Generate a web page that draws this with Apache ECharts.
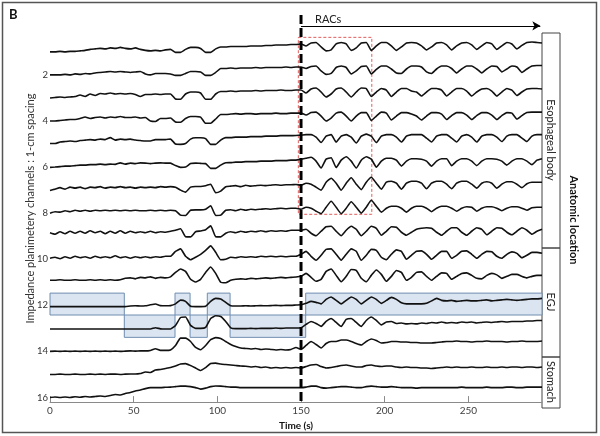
<!DOCTYPE html>
<html>
<head>
<meta charset="utf-8">
<script src="https://cdn.jsdelivr.net/npm/echarts@6/dist/echarts.min.js"></script>
<style>
html, body { margin: 0; padding: 0; background: #fff; }
#chart { width: 600px; height: 436px; }
</style>
</head>
<body>
<div id="chart"></div>
<script>
// time base (s), one sample every 3 s
let times = [0,3,6,9,12,15,18,21,24,27,30,33,36,39,42,45,48,51,54,57,60,63,66,69,72,75,78,81,84,87,90,93,96,99,102,105,108,111,114,117,120,123,126,129,132,135,138,141,144,147,150,153,156,159,162,165,168,171,174,177,180,183,186,189,192,195,198,201,204,207,210,213,216,219,222,225,228,231,234,237,240,243,246,249,252,255,258,261,264,267,270,273,276,279,282,285,288,291,294];

// impedance traces, channel 1 (top) .. 16 (bottom), arbitrary units
let ch1 = [0,0,0.5,0,0.5,0.5,1,1.5,2.5,3,3.5,3,4,3.5,4.5,3.5,3,4,2.5,1.5,1,1.5,1,2,2.5,-0.5,-0.5,2.5,4.5,4.5,3.5,-0.5,-0.5,3,5,5,5.5,5.5,5.5,5.5,6,6,6,6.5,6.5,7,7,7,7.5,7.5,
  8,6,9,9.5,5,1,2,8,9.5,8,1.5,4,9,9.5,1.5,6,9.5,9.5,6,1.5,5,9,9.5,9,6,2,5,9,9.5,7,2,6,9,9.5,7,2.5,6,9.5,8,2.5,6,9.5,8,3,6.5,9.5,10,9.5,9];
let ch2 = [0,0,0,0.5,0,1,0.5,1.5,1,2,2.5,3,3.5,3,3.5,3,2.5,3,3.5,1,0,1.5,1.5,1.5,1,-0.5,-0.5,1.5,3.5,3.5,3,-0.5,-0.5,2.5,6.5,6.5,7,6.5,7,7,7,7.5,7,7.5,7.5,7.5,7.5,8,7.5,8,
  8,6.5,8.5,9,4,0.5,1.5,7.5,9,7.5,1,4,8.5,9,1,5.5,9,9,6,2,1.5,6,9,9,8,3,1.5,6,9,9,6.5,2,6,9,9,6,2,6,9,8.5,3,6,9,8,2.5,6,9,9.5,9.5];
let ch3 = [0,0.5,1,0.5,1,1.5,3,1.5,4,2.5,4.5,4,5,4,4.5,4,4.5,3.5,1.5,3.5,3.5,4,3.5,4,4,-1,-1.3,4,6,6,5,-1.3,-1.3,4,6.5,6.5,7,6.5,7,7,7,7.5,7,7.5,7.5,7.5,8,7.5,7.5,8,
  8,5,9,10,6,1,4,9,10,6,1,6,10,9.5,1.5,6,9.5,8,1.5,6,9.5,9.5,7,6,2,6,9.5,9.5,8,2,6,9.5,9.5,7,2,6,9,9.5,7,2,6,9.5,8,2.5,6,9,9.5,9.5,9];
let ch4 = [0,0,0.5,1,1.5,1.5,2.5,4,2.5,3.5,4,3,4,3.5,4.5,3.5,3.5,4,3,3.5,0,-0.5,2.5,2.5,3,-1,-1.3,2.5,4.5,4.5,4,-2.3,-2.3,2,6.5,6.5,7,7.5,7,7.5,7.5,7,7.5,7.5,7.5,8,7.5,7.5,8,8,
  8,6,8.5,9,5,0,3,8,9,5,0,5,8.5,8.5,0.5,5,9,8,1,5,8.5,8.5,7,5,1,5,8.5,8.5,7,1.5,5.5,8.5,8.5,6,1.5,5.5,8.5,8.5,6,1.5,5.5,8.5,8,2,5.5,8.5,9,9,9];
let ch5 = [0.5,0.5,2,2.5,3,2.5,3.5,4,4.5,4,5,4.5,6.5,4,5,4.5,5,4,3.5,3,3,4.5,4.5,4.5,5,0,-0.3,0.5,5,6.3,6.3,5.5,-0.3,-0.3,4,6.5,6.5,7,7,7,7.5,7.5,7.5,8,8,8,8.5,8.5,8.5,8.7,
  9,9.5,9.5,7,1.5,8,9.5,2,8,9.5,7,1,8,10,8,1.5,8,9.5,9.5,7,2,8,9.5,9.5,9.5,6,2,8,9.5,9.5,6,2,8,9.5,7,2,8,9.5,9.5,7,2.5,8,9.5,9.5,6,2.5,8,9.5,9.5];
let ch6 = [-0.3,0,0.5,1,1,1.5,2,2,2.5,2.5,3,2.5,3,2.7,4.3,3,4,3.5,4.3,4,3.5,4,4.3,4,4,1.5,-0.3,0,3.5,4,3.7,3.5,-1.3,-1.3,2,4.3,4.5,5,5,5.5,5.5,5.5,6,6,6,6.5,6.5,6.5,7,7,
  8,9,10,6,-1,8,9.5,-0.5,7,10.5,6,-1,7,10.5,8,0,6,9,9,7,1,6,8.5,8.5,8,6,1,6,8.5,8.5,1.5,6,8.5,8.5,6,1.5,6,8.5,8.5,8,6,2,6,8.5,8.5,6,2.5,7,8.5];
let ch7 = [-0.3,1,2.5,1,3,2,3,1.5,3,2.5,3.5,2,3,2.5,3.5,2.5,3,2,3,2.5,3,2.5,3.5,3,3.5,3,0,-2,3,3.7,3.7,4.5,6,-2.7,-1,3.5,4,4.5,3.5,5,4,4.5,5,4.5,5,5.5,5,5.5,5.5,5.7,
  5,7,6,3,0,8,12,7,0,7,12.5,6,0.5,8,13,7,1,8,9,7,1,7,9,9,7,1.5,7,9,9,6,1.5,7,9,9,6,2,7,8.5,7,2,6,8.5,8.5,6,2.5,6.5,8,8,8];
let ch8 = [0,1.5,1,2.5,1.5,3,2,3,2,3,2.5,3,2.5,3,2.5,3,2.5,3,2.5,2.5,3,2.5,3,2.5,3,2.5,-2,-2.3,3,3.3,3.3,4,7.5,-2.3,-2,3,3.5,2.5,4,3,4,3.5,4,4.5,4,4.5,5,4.5,5,5,
  4,6,5,2,-0.5,6,12,6,-0.5,5,11.5,6,0,6,13,7,1,5,7,7,5,1,5,7,7,5,1.5,5,7,7,5,2,5,6.5,6,2,5,6.5,6.5,5,2.5,5,6.5,6.5,5,3,5.5,6,6];
let ch9 = [3.5,2,4.5,2.5,5,3,5,3,5.5,3.5,5,2.5,5,3,5.5,3,5,3.5,4.5,3.5,5,3.5,4.5,4,5,6,7.5,-0.5,-0.7,4.5,5.3,6.5,10.5,-0.5,-0.7,3,4.5,3.5,5,4,5,4.5,5.5,4.5,5.5,5,5.5,5,6,6,
  6,7,3,0.5,5,9.5,10,5,0.5,6,10,7,0.5,5,10,8,1,5,9.5,9,4,1,4,7,8,8.5,8,4,1,5,8.5,8.5,4,1,5,8.5,7,1.5,5,8.5,8,4,1.5,5,8.5,6,2,5,7];
let ch10 = [1,2,0.5,2.5,1,3,1.5,2.5,1,3,1.5,2.5,1.5,3.5,1.5,2.5,1,2.5,1.5,2.5,1.5,2.5,2,3,3,8,10.5,3,-0.5,2,5,9,13.5,7,-0.5,0,2,1.5,2.5,2,2.5,2,3,2.5,3,2.5,3,2.5,3,3,
  5,8,3,-1,4,10,10.5,5,-1,5,10.5,8,-1,4,10,9,2,-0.5,5,9.5,8,0,4,8,8.5,5,0,4,8,8,1,4,8,8.5,5,1,5,8,7.5,3,1,5,7.5,6,1.5,4,7,7,6];
let ch11 = [2,2,2.5,2,2,2.5,2,2,2.5,2,2.5,2,2.5,2,2.5,4,4.5,3.5,5,4.5,5.5,4,5,4.5,5.5,10,13.5,11,3,0.3,3,10,15.5,9,0,-0.5,2,3,3.5,3,4,3.5,4,4.5,4,4.5,5,4.5,5,5.3,
  6,9,5,1,3,11,13.5,7,0.5,6,13,12,4,0.5,7,12.5,8,1,6,12,10,2,5,10,10.5,6,2,6,9.5,9,3,6,9,9.5,7,4,3.5,7,9,7.5,4,6,8,8,6,4.5,6,7,7];
let ch12 = [-1.3,-1.3,-1.3,-1.3,-1.3,-1.3,-1.3,-1.3,-1.3,-1.3,-1.3,-1.3,-1.3,-1.3,-1.3,-1.3,-0.7,-0.5,-0.7,-0.5,0.5,1.3,-0.3,-0.5,-0.3,1.5,5.3,4,-1,-1.3,-1.3,-1,4,7,6.5,3,-0.5,-0.7,-0.7,-0.5,-0.7,-0.5,-0.3,-0.5,-0.3,0,-0.3,0,0,0.3,
  0.5,2,4,3,1.5,6,8.5,5,1.5,5,8.5,6,1.5,5,8.5,6,2,5,8,6,2.5,1.5,1.5,1.5,1.5,2,4.5,7,5,4.5,5,4,4.5,5,4.5,4.5,5,5.5,4.5,5,5.5,6,5.5,5,5.5,6,6.5,6.5,7];
let ch13 = [-0.7,-0.7,-0.7,-0.7,-0.7,-0.7,-0.7,-0.7,-0.7,-0.7,-0.7,-0.7,-0.7,-0.7,-0.7,-0.7,-0.7,-0.7,-0.7,-0.7,-0.7,0.7,-0.5,-0.7,-0.7,3,11,11.5,3,0,0,1,10,12.7,12,7,0.5,-0.3,-0.3,-0.3,0,-0.3,0,0,0,0.3,0,0.3,0.3,0.3,
  0.5,4,7,5,2,7,10,6,2,9,10,6,2,8,11.5,8,3.5,6.5,7,5,5.5,4.5,5,4.5,5.5,5,6,5.5,6.5,5.5,6,5.5,6.5,6,6.5,5.5,6,6.5,6,6.5,7,6.5,7,7,7,7.5,7.5,8,8];
let ch14 = [0,0.3,0,0.3,0,0.3,0,0.3,0,0.3,0,0.3,0,0.3,0,0.3,0.5,0.3,0.5,0.5,1,2.7,1,1,1.5,6,13.5,13.5,10,4,1.7,6,12,14,13,10,7,5,3.5,3,2.5,3,2,2.5,2,1.5,2,1.5,2,4,
  2,6,10,7,3.5,8,10,10,11.5,11.5,10,8,6.5,10,12.5,11,8.5,9,10,10,9.5,9.5,9,9,8.5,8.5,8.5,9,9.5,10,10,10.5,10,10,9.5,10,10,10.5,10,10,10,9.5,10,10,10.5,10,10,10,10.5];
let ch15 = [0,0,0.3,0,0,0.3,0,0,0.3,0,0.3,0,0.3,0.3,0,0.3,0.5,0.5,1,2.5,2,4.5,5,6,7,8.5,10.5,11,9,6.5,4,7,11,11.5,10.5,10,9.5,9,8.5,8.3,7.5,8,7,7.5,6.5,7,6.5,7,6.5,7,
  6.5,8,9.5,10,8,6.5,7,8,9,9.5,8.5,7.5,7.5,9,9.5,8.5,8,8.5,8.5,7.5,7,7.5,7,7,6.5,6.5,6,6.5,7,7.5,7,7.5,7,7,7.5,7,7,7.5,7,7,7.5,7,7.5,7.5,7,7.5,7.5,7,7.5];
let ch16 = [0,0.5,0,0.5,0,0.7,0.3,1,0.5,1,1.5,1,2,3,2.5,4,5,6.5,7.5,9,10,10,10,10.3,10.5,11,11.5,11.5,11,10,8.5,9.5,11,11.7,11.5,11,10.5,10.5,10,10,10,10,10,10,10,10,10,10,10,10,
  10,10.5,11.5,11.5,10,9.5,10,10.5,11,11,10.5,10,10,11,11.5,11,10.5,10.5,11,10.5,10,10,10,9.5,10,10,10,10,10,10,10,10,10.5,10,10,10,10,10.5,10,10,10,10.5,10.5,10,10,10.5,10.5,10.5,10.5];

let channelTicks = [2, 4, 6, 8, 10, 12, 14, 16];

// shaded intervals (s) on channel 12 and channel 13
let upperBoxes = [[0, 44.4], [74.7, 83.7], [94, 107.6], [152.8, 294]];
let lowerBoxes = [[44.4, 74.7], [83.7, 94], [107.6, 152.8]];
let upperBand = [11.47, 12.42];
let lowerBand = [12.42, 13.39];

// RAC onset and highlighted window
let racStart = 150;
let racEnd = 293;
let racWindow = [148.4, 192.3];
let racChannels = [0.37, 8.05];

const ampScale = 1 / 23.33;
const font = 'Lato, "Open Sans", sans-serif';

let channels = [ch1, ch2, ch3, ch4, ch5, ch6, ch7, ch8, ch9, ch10, ch11, ch12, ch13, ch14, ch15, ch16];

let series = [];

series.push({
    type: 'line',
    data: [],
    silent: true,
    z: 1,
    markArea: {
        silent: true,
        itemStyle: { color: '#dbe5f1', borderColor: '#6f8db0', borderWidth: 1 },
        label: { show: false },
        data: upperBoxes.map(b => [{ xAxis: b[0], yAxis: upperBand[0] }, { xAxis: b[1], yAxis: upperBand[1] }])
            .concat(lowerBoxes.map(b => [{ xAxis: b[0], yAxis: lowerBand[0] }, { xAxis: b[1], yAxis: lowerBand[1] }]))
    }
});

for (let k = 0; k < channels.length; k++) {
    let pts = [];
    for (let i = 0; i < times.length; i++) {
        pts.push([times[i], (k + 1) - channels[k][i] * ampScale]);
    }
    series.push({
        type: 'line',
        data: pts,
        symbol: 'none',
        smooth: 0.15,
        silent: true,
        z: 3,
        lineStyle: { color: '#111', width: 1.6 }
    });
}

series.push({
    type: 'line',
    data: [],
    silent: true,
    z: 4,
    markArea: {
        silent: true,
        itemStyle: { color: 'rgba(0,0,0,0)', borderColor: '#e05c5c', borderWidth: 1, borderType: [3, 2] },
        label: { show: false },
        data: [[{ xAxis: racWindow[0], yAxis: racChannels[0] }, { xAxis: racWindow[1], yAxis: racChannels[1] }]]
    },
    markLine: {
        silent: true,
        symbol: ['none', 'arrow'],
        symbolSize: [7, 8],
        lineStyle: { color: '#000', width: 1, type: 'solid' },
        label: { show: false },
        data: [[{ coord: [racStart, -0.13] }, { coord: [racEnd, -0.13] }]]
    }
});

series.push({
    type: 'line',
    data: [[racStart, -0.6], [racStart, 16.2]],
    symbol: 'none',
    silent: true,
    z: 5,
    lineStyle: { color: '#000', width: 3, type: [9, 4] }
});

let option = {
    animation: false,
    textStyle: { fontFamily: font },
    grid: { left: 50, right: 58, top: 15, bottom: 29, containLabel: false },
    xAxis: {
        type: 'value',
        min: 0,
        max: 294,
        interval: 50,
        axisLine: { onZero: false, lineStyle: { color: '#8a8a8a', width: 1 } },
        axisTick: { inside: true, length: 6, lineStyle: { color: '#8a8a8a' } },
        axisLabel: { color: '#404040', fontSize: 10, margin: 4, showMaxLabel: false, fontFamily: font },
        splitLine: { show: false },
        name: 'Time (s)',
        nameLocation: 'middle',
        nameGap: 16,
        nameTextStyle: { fontWeight: 'bold', fontSize: 10, color: '#111', fontFamily: font }
    },
    yAxis: {
        type: 'value',
        inverse: true,
        min: -0.6,
        max: 16.2,
        axisLine: { show: false },
        axisTick: { show: false },
        splitLine: { show: false },
        axisLabel: { customValues: channelTicks, fontSize: 9.5, color: '#333', margin: 2, fontFamily: font },
        name: 'Impedance planimetery channels : 1-cm spacing',
        nameLocation: 'middle',
        nameGap: 14,
        nameMoveOverlap: false,
        nameTextStyle: { fontSize: 11, color: '#333', fontFamily: font }
    },
    series: series,
    graphic: [
        { type: 'rect', shape: { x: 2.5, y: 2.5, width: 594, height: 430 }, style: { fill: 'none', stroke: '#555', lineWidth: 1.5 }, silent: true },
        { type: 'text', left: 9, top: 8, style: { text: 'B', font: 'bold 13px ' + font, fill: '#111' } },
        { type: 'text', left: 315, top: 14, style: { text: 'RACs', font: '11px ' + font, fill: '#222' } },
        { type: 'rect', shape: { x: 542, y: 33, width: 18, height: 215 }, style: { fill: 'none', stroke: '#444', lineWidth: 1 }, silent: true },
        { type: 'rect', shape: { x: 542, y: 248, width: 18, height: 109 }, style: { fill: 'none', stroke: '#444', lineWidth: 1 }, silent: true },
        { type: 'rect', shape: { x: 542, y: 357, width: 18, height: 51 }, style: { fill: 'none', stroke: '#444', lineWidth: 1 }, silent: true },
        { type: 'text', x: 551, y: 140, rotation: -Math.PI / 2, style: { text: 'Esophageal body', font: '11px ' + font, fill: '#222', align: 'center', verticalAlign: 'middle' } },
        { type: 'text', x: 551, y: 302, rotation: -Math.PI / 2, style: { text: 'EGJ', font: '11px ' + font, fill: '#222', align: 'center', verticalAlign: 'middle' } },
        { type: 'text', x: 551, y: 382, rotation: -Math.PI / 2, style: { text: 'Stomach', font: '11px ' + font, fill: '#222', align: 'center', verticalAlign: 'middle' } },
        { type: 'text', x: 574, y: 220, rotation: -Math.PI / 2, style: { text: 'Anatomic location', font: 'bold 11px ' + font, fill: '#111', align: 'center', verticalAlign: 'middle' } }
    ]
};

let chart = echarts.init(document.getElementById('chart'));
chart.setOption(option);
</script>
</body>
</html>
